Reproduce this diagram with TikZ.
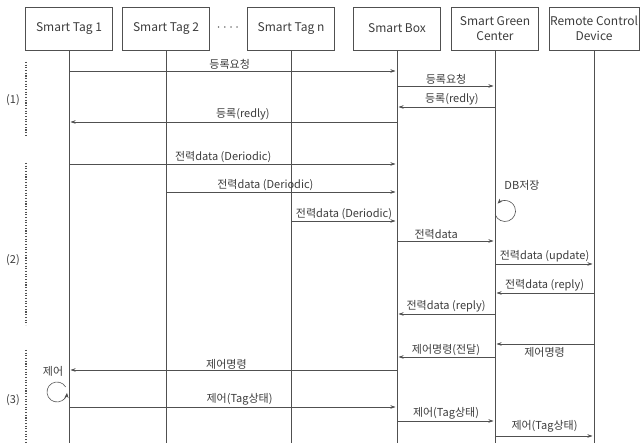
\documentclass[tikz,border=0pt]{standalone}
\usepackage{fontspec}
\setmainfont{Noto Sans CJK KR}
\usetikzlibrary{arrows.meta}
\definecolor{LineGray}{RGB}{80,80,80}
\definecolor{TextGray}{RGB}{60,60,60}

\begin{document}
\begin{tikzpicture}[x=1pt, y=1pt,
	actor/.style={draw=LineGray, line width=0.6pt, minimum width=87pt, minimum height=43pt,
		align=center, text=TextGray, inner sep=1pt, font=\fontsize{12}{15}\selectfont},
	life/.style={LineGray, line width=0.6pt},
	msg/.style={LineGray, line width=0.6pt, -{Stealth[length=5pt,width=3.5pt]}, shorten >=1.5pt},
	selfloop/.style={LineGray, line width=0.6pt, -{Stealth[length=5pt,width=4pt]}},
	lbl/.style={text=TextGray, inner sep=1.5pt, font=\fontsize{11}{12}\selectfont},
	phase/.style={LineGray, line width=1.1pt, dash pattern=on 1.1pt off 1.6pt}]
	\useasboundingbox (0,0) rectangle (642,443);
	% participants
	\node[actor] (tagA) at (69,414.5) {Smart Tag 1};
	\node[actor] (tagB) at (166,414.5) {Smart Tag 2};
	\node[actor] (tagN) at (291,414.5) {Smart Tag n};
	\node[actor] (sbox) at (397,414.5) {Smart Box};
	\node[actor] (sgc) at (495,414.5) {Smart Green\\Center};
	\node[actor] (rcd) at (594,414.5) {Remote Control\\Device};
	\node[lbl, text=LineGray] (etc) at (228,414) {····};
	% lifelines
	\draw[life] (tagA.south) -- (tagA |- 0,0);
	\draw[life] (tagB.south) -- (tagB |- 0,0);
	\draw[life] (tagN.south) -- (tagN |- 0,0);
	\draw[life] (sbox.south) -- (sbox |- 0,0);
	\draw[life] (sgc.south) -- (sgc |- 0,0);
	\draw[life] (rcd.south) -- (rcd |- 0,0);
	% (1) registration
	\draw[msg] (tagA |- 0,372) -- (sbox |- 0,372) node[lbl, above, pos=0.49] (m1) {등록요청};
	\draw[msg] (sbox |- 0,357) -- (sgc |- 0,357) node[lbl, above, midway] (m2) {등록요청};
	\draw[msg] (sgc |- 0,336) -- (sbox |- 0,336) node[lbl, above, pos=0.44] (m3) {등록(redly)};
	\draw[msg] (sbox |- 0,321) -- (tagA |- 0,321) node[lbl, above, pos=0.47] (m4) {등록(redly)};
	% (2) power data
	\draw[msg] (tagA |- 0,279) -- (sbox |- 0,279) node[lbl, above, pos=0.47] (m5) {전력data (Deriodic)};
	\draw[msg] (tagB |- 0,251) -- (sbox |- 0,251) node[lbl, above, pos=0.43] (m6) {전력data (Deriodic)};
	\draw[msg] (tagN |- 0,222) -- (sbox |- 0,222) node[lbl, above, midway] (m7) {전력data (Deriodic)};
	\coordinate (dbc) at (505,232);
	\draw[selfloop] ([shift={(200:10.5)}]dbc) arc[start angle=200, end angle=495, radius=10.5];
	\node[lbl] (db) at (522,258) {DB저장};
	\draw[msg] (sbox |- 0,202) -- (sgc |- 0,202) node[lbl, above, pos=0.4] (m8) {전력data};
	\draw[msg] (sgc |- 0,179) -- (rcd |- 0,179) node[lbl, above, midway] (m9) {전력data (update)};
	\draw[msg] (rcd |- 0,150) -- (sgc |- 0,150) node[lbl, above, midway] (m10) {전력data (reply)};
	\draw[msg] (sgc |- 0,129) -- (sbox |- 0,129) node[lbl, above, midway] (m11) {전력data (reply)};
	% (3) control
	\draw[msg] (rcd |- 0,99) -- (sgc |- 0,99) node[lbl, below, midway, yshift=-2pt] (m12) {제어명령};
	\draw[msg] (sgc |- 0,86) -- (sbox |- 0,86) node[lbl, above, midway] (m13) {제어명령(전달)};
	\draw[msg] (sbox |- 0,73) -- (tagA |- 0,73) node[lbl, above, pos=0.52, inner sep=0.5pt] (m14) {제어명령};
	\coordinate (ctl) at (57,51);
	\draw[selfloop] ([shift={(30:10)}]ctl) arc[start angle=30, end angle=355, radius=10];
	\node[lbl] (ctltxt) at (53,72) {제어};
	\draw[msg] (tagA |- 0,36) -- (sbox |- 0,36) node[lbl, above, pos=0.52] (m15) {제어(Tag상태)};
	\draw[msg] (sbox |- 0,22) -- (sgc |- 0,22) node[lbl, above, midway] (m16) {제어(Tag상태)};
	\draw[msg] (sgc |- 0,7) -- (rcd |- 0,7) node[lbl, above, midway, yshift=2pt] (m17) {제어(Tag상태)};
	% phases
	\draw[phase] (26,381) -- (26,308);
	\draw[phase] (26,280) -- (26,118);
	\draw[phase] (26,93) -- (26,0);
	\node[lbl] (p1) at (13,343) {(1)};
	\node[lbl] (p2) at (13,183) {(2)};
	\node[lbl] (p3) at (13,43) {(3)};
\end{tikzpicture}
\end{document}
